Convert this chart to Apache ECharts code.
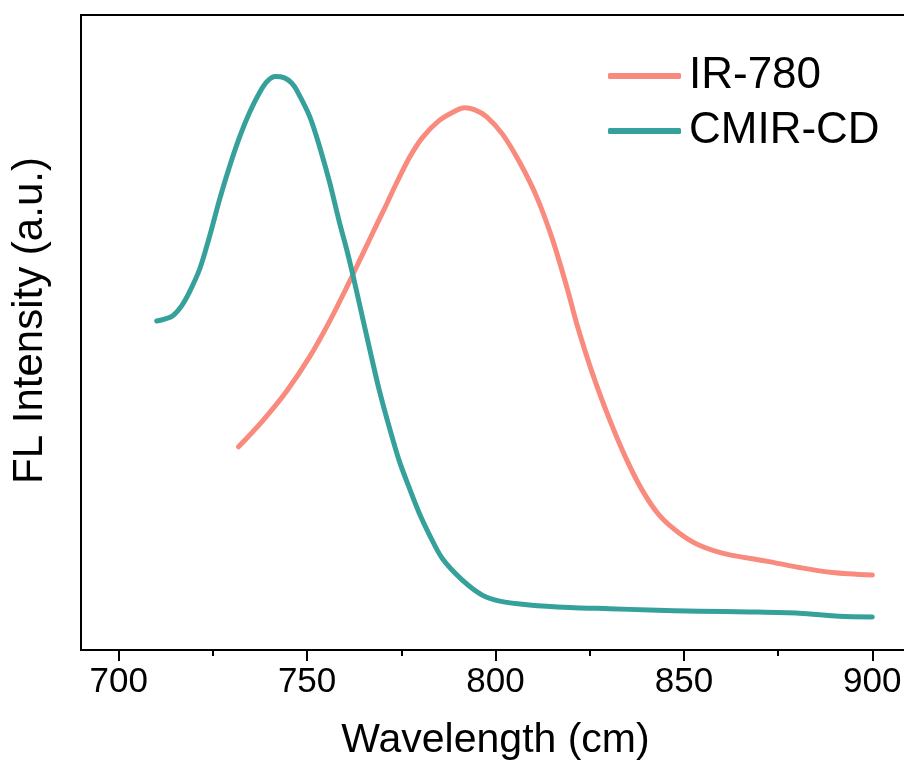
<!DOCTYPE html>
<html>
<head>
<meta charset="utf-8">
<script src="https://cdn.jsdelivr.net/npm/echarts@6/dist/echarts.min.js"></script>
<style>
html,body{margin:0;padding:0;background:#fff;}
#chart{width:904px;height:767px;}
</style>
</head>
<body>
<div id="chart"></div>
<script>
const seriesNames = ['IR-780', 'CMIR-CD'];
const seriesColors = ['#F88A7E', '#36A09B'];

const irWavelength = [731.8,738.2,744.6,750.7,756.0,760.5,764.7,768.4,771.1,773.7,777.2,780.6,785.1,789.7,791.8,794.4,797.6,801.9,806.4,810.9,815.1,819.1,821.5,825.7,830.2,834.7,839.0,843.5,848.8,854.1,861.3,871.9,880.6,889.4,900.0];
const irIntensity  = [0.320,0.361,0.408,0.462,0.518,0.571,0.623,0.669,0.702,0.735,0.776,0.807,0.834,0.850,0.854,0.851,0.840,0.812,0.768,0.714,0.647,0.568,0.515,0.436,0.364,0.301,0.251,0.212,0.184,0.165,0.151,0.140,0.130,0.122,0.118];

const cdWavelength = [710.1,712.2,714.3,716.7,718.8,721.5,724.1,726.8,729.4,732.1,734.7,737.4,739.5,741.6,744.0,745.9,747.2,750.7,753.3,756.0,758.6,760.5,762.1,763.9,766.6,769.2,771.9,774.5,777.2,779.8,782.5,785.9,791.2,796.6,801.1,809.0,819.6,830.2,840.8,854.1,867.4,880.6,891.2,900.0];
const cdIntensity  = [0.518,0.521,0.526,0.542,0.564,0.600,0.651,0.710,0.761,0.808,0.846,0.878,0.896,0.903,0.901,0.893,0.882,0.840,0.793,0.736,0.673,0.631,0.592,0.545,0.474,0.408,0.349,0.297,0.254,0.215,0.181,0.144,0.110,0.086,0.077,0.071,0.067,0.065,0.063,0.061,0.060,0.058,0.053,0.052];

const xMajorTicks = [700, 750, 800, 850, 900];
const xMinorTicks = [725, 775, 825, 875];
const xTitle = 'Wavelength (cm)';
const yTitle = 'FL Intensity (a.u.)';

const font = '"Liberation Sans", Arial, sans-serif';
const zip = (xs, ys) => xs.map((x, i) => [x, ys[i]]);

const chart = echarts.init(document.getElementById('chart'), null, {renderer: 'canvas'});
chart.setOption({
  backgroundColor: '#fff',
  animation: false,
  grid: {
    left: 81, top: 15, width: 829, bottom: 117,
    show: true, borderColor: '#000', borderWidth: 2,
    containLabel: false, outerBoundsMode: 'none'
  },
  legend: {
    orient: 'vertical',
    left: 603, top: 49,
    itemWidth: 73, itemHeight: 6,
    itemGap: 11,
    icon: 'roundRect',
    textStyle: {fontFamily: font, fontSize: 44, color: '#000', lineHeight: 44, padding: [0,0,0,3]},
    data: seriesNames
  },
  xAxis: [{
    type: 'value', min: 690, max: 910,
    position: 'bottom',
    name: xTitle, nameLocation: 'middle', nameGap: 70,
    nameTextStyle: {fontFamily: font, fontSize: 41, color: '#000'},
    axisLine: {show: true, onZero: false, lineStyle: {color: '#000', width: 2}},
    axisTick: {show: true, inside: false, length: 11, lineStyle: {color: '#000', width: 2}, customValues: xMajorTicks},
    axisLabel: {show: true, margin: 15, fontFamily: font, fontSize: 35, color: '#000', customValues: xMajorTicks},
    splitLine: {show: false}
  }, {
    type: 'value', min: 690, max: 910,
    position: 'bottom',
    axisLine: {show: false, onZero: false},
    axisTick: {show: true, inside: false, length: 6, lineStyle: {color: '#000', width: 2}, customValues: xMinorTicks},
    axisLabel: {show: false},
    splitLine: {show: false}
  }],
  yAxis: {
    type: 'value', min: 0, max: 1,
    name: yTitle, nameLocation: 'middle', nameGap: 30, nameRotate: 90,
    nameTextStyle: {fontFamily: font, fontSize: 42, color: '#000', padding: [0, 0, 0, 24]},
    axisLine: {show: true, onZero: false, lineStyle: {color: '#000', width: 2}},
    axisTick: {show: false},
    axisLabel: {show: false},
    splitLine: {show: false}
  },
  series: [{
    name: seriesNames[0], type: 'line', xAxisIndex: 0,
    data: zip(irWavelength, irIntensity),
    smooth: 0.3, showSymbol: false, symbol: 'none',
    lineStyle: {color: seriesColors[0], width: 5, cap: 'round', join: 'round'},
    itemStyle: {color: seriesColors[0]}
  }, {
    name: seriesNames[1], type: 'line', xAxisIndex: 0,
    data: zip(cdWavelength, cdIntensity),
    smooth: 0.3, showSymbol: false, symbol: 'none',
    lineStyle: {color: seriesColors[1], width: 5, cap: 'round', join: 'round'},
    itemStyle: {color: seriesColors[1]}
  }]
});
</script>
</body>
</html>
